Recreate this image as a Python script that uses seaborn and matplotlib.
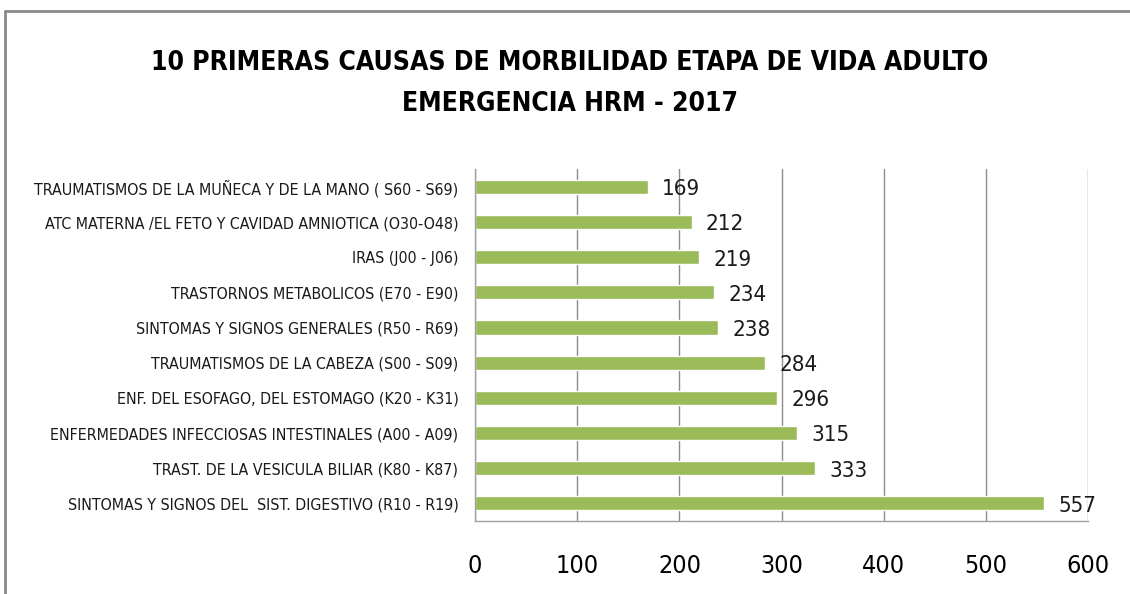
import matplotlib
matplotlib.use("Agg")
import matplotlib.pyplot as plt
from matplotlib.lines import Line2D
import seaborn as sns
import pandas as pd

causas = [
    "TRAUMATISMOS DE LA MUÑECA Y DE LA MANO ( S60 - S69)",
    "ATC MATERNA /EL FETO Y CAVIDAD AMNIOTICA (O30-O48)",
    "IRAS (J00 - J06)",
    "TRASTORNOS METABOLICOS (E70 - E90)",
    "SINTOMAS Y SIGNOS GENERALES (R50 - R69)",
    "TRAUMATISMOS DE LA CABEZA (S00 - S09)",
    "ENF. DEL ESOFAGO, DEL ESTOMAGO (K20 - K31)",
    "ENFERMEDADES INFECCIOSAS INTESTINALES (A00 - A09)",
    "TRAST. DE LA VESICULA BILIAR (K80 - K87)",
    "SINTOMAS Y SIGNOS DEL  SIST. DIGESTIVO (R10 - R19)",
]
casos = [169, 212, 219, 234, 238, 284, 296, 315, 333, 557]
x_ticks = [0, 100, 200, 300, 400, 500, 600]

titulo = "10 PRIMERAS CAUSAS DE MORBILIDAD ETAPA DE VIDA ADULTO\nEMERGENCIA HRM - 2017"

df = pd.DataFrame({"causa": causas, "casos": casos})

sns.set_style("white")
plt.rcParams["font.family"] = ["DejaVu Sans"]
plt.rcParams["font.stretch"] = "condensed"
plt.rcParams["text.color"] = "black"
plt.rcParams["xtick.color"] = "black"
plt.rcParams["ytick.color"] = "#1a1a1a"

fig = plt.figure(figsize=(11.3, 5.94), dpi=100)
ax = fig.add_axes([0.4204, 0.123, 0.5425, 0.592])

sns.barplot(data=df, x="casos", y="causa", color="#9BBB59", width=0.4,
            saturation=1, ax=ax)

for i, v in enumerate(casos):
    ax.text(v + 14, i + 0.07, str(v), va="center", ha="left",
            fontsize=16, color="#1a1a1a")

ax.set_xlim(0, 600)
ax.set_xticks(x_ticks)
ax.set_xticklabels([str(t) for t in x_ticks], fontsize=18)
ax.tick_params(axis="x", length=0, pad=24)
ax.tick_params(axis="y", length=0, pad=12, labelsize=11.4)
ax.set_xlabel("")
ax.set_ylabel("")
ax.grid(axis="x", color="#8c8c8c", linewidth=1)
ax.set_axisbelow(True)
for s in ["top", "right"]:
    ax.spines[s].set_visible(False)
for s in ["left", "bottom"]:
    ax.spines[s].set_color("#a0a0a0")
    ax.spines[s].set_linewidth(1)

fig.text(0.504, 0.86, titulo, ha="center", va="center", fontsize=19,
         fontweight="bold", linespacing=1.75)

# marco de la figura
fig.add_artist(Line2D([5 / 1130, 1], [1 - 11 / 594, 1 - 11 / 594],
                      transform=fig.transFigure, color="#8a8a8a", linewidth=2))
fig.add_artist(Line2D([5 / 1130, 5 / 1130], [0, 1 - 11 / 594],
                      transform=fig.transFigure, color="#8a8a8a", linewidth=2))

fig.savefig("out.png", dpi=100)
